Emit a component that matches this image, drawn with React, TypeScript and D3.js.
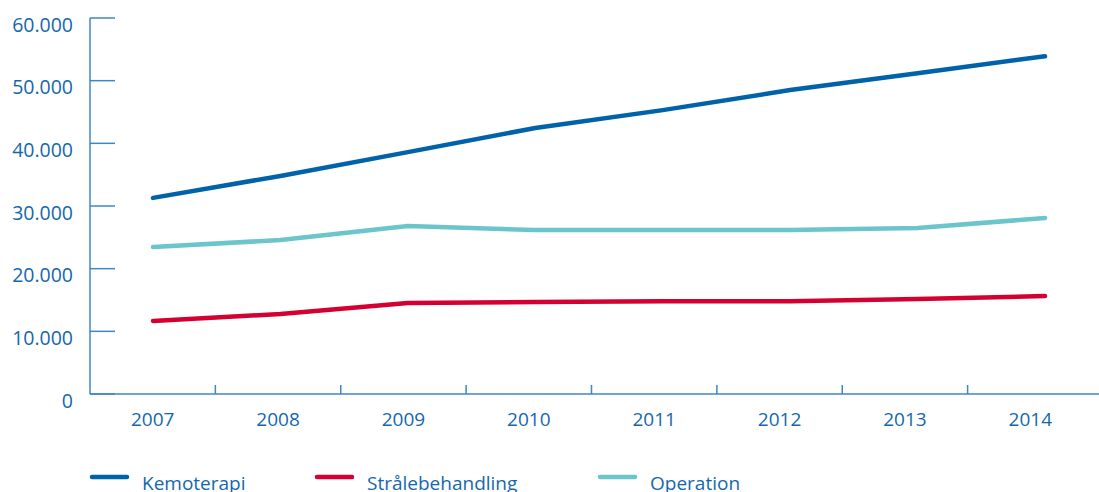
import React from "react";
import * as d3 from "d3";

const years = ["2007", "2008", "2009", "2010", "2011", "2012", "2013", "2014"];
const kemoterapi = [31300, 34800, 38600, 42450, 45300, 48500, 51200, 53900];
const straalebehandling = [11650, 12760, 14520, 14680, 14800, 14800, 15160, 15640];
const operation = [23450, 24570, 26800, 26170, 26170, 26170, 26500, 28080];
const yTicks = [0, 10000, 20000, 30000, 40000, 50000, 60000];
const seriesNames = ["Kemoterapi", "Strålebehandling", "Operation"];

const W = 1099;
const H = 492;
const left = 90;
const right = 1093;
const top = 18;
const bottom = 394;
const textColor = "#1467ad";
const axisColor = "#3f86c6";
const colors = ["#0062a8", "#d50032", "#6cc5cb"];
const font = "'Open Sans', sans-serif";

export default function App() {
  const x = d3.scaleBand<string>().domain(years).range([left, right]).padding(0);
  const xp = d3.scalePoint<string>().domain(years).range([153, 1045]);
  const y = d3.scaleLinear().domain([0, 60000]).range([bottom, top]);
  const cx = (yr: string) => (x(yr) ?? 0) + x.bandwidth() / 2;
  const fmt = (v: number) => (v === 0 ? "0" : d3.format(",")(v).replace(/,/g, "."));
  const line = d3
    .line<number>()
    .x((_, i) => xp(years[i]) ?? 0)
    .y((v) => y(v));
  const series = [kemoterapi, straalebehandling, operation];
  const legendX = [90, 315, 598];

  return (
    <svg
      width={W}
      height={H}
      style={{ position: "absolute", left: 0, top: 0, background: "#fff" }}
      fontFamily={font}
    >
      {/* y axis */}
      <line x1={left} x2={left} y1={top} y2={bottom} stroke={axisColor} strokeWidth={1.5} />
      {yTicks.map((t) => (
        <g key={t}>
          <line x1={left} x2={left + 25} y1={y(t)} y2={y(t)} stroke={axisColor} strokeWidth={1.5} />
          <text x={73} y={y(t) + 13.5} textAnchor="end" fontSize={19.5} fill={textColor}>
            {fmt(t)}
          </text>
        </g>
      ))}
      {/* x axis */}
      <line x1={left} x2={W} y1={bottom} y2={bottom} stroke={axisColor} strokeWidth={1.5} />
      {years.slice(1).map((yr) => (
        <line
          key={yr}
          x1={x(yr)}
          x2={x(yr)}
          y1={bottom - 9}
          y2={bottom}
          stroke={axisColor}
          strokeWidth={1.5}
        />
      ))}
      {years.map((yr) => (
        <text key={yr} x={cx(yr)} y={426} textAnchor="middle" fontSize={19} fill={textColor}>
          {yr}
        </text>
      ))}
      {/* lines */}
      {series.map((s, i) => (
        <path
          key={i}
          d={line(s) ?? ""}
          fill="none"
          stroke={colors[i]}
          strokeWidth={4.5}
          strokeLinecap="round"
          strokeLinejoin="round"
        />
      ))}
      {/* legend */}
      {seriesNames.map((n, i) => (
        <g key={n}>
          <line
            x1={legendX[i] + 2}
            x2={legendX[i] + 37}
            y1={477}
            y2={477}
            stroke={colors[i]}
            strokeWidth={4.5}
            strokeLinecap="round"
          />
          <text x={legendX[i] + 52} y={490} fontSize={19} fill={textColor}>
            {n}
          </text>
        </g>
      ))}
    </svg>
  );
}
